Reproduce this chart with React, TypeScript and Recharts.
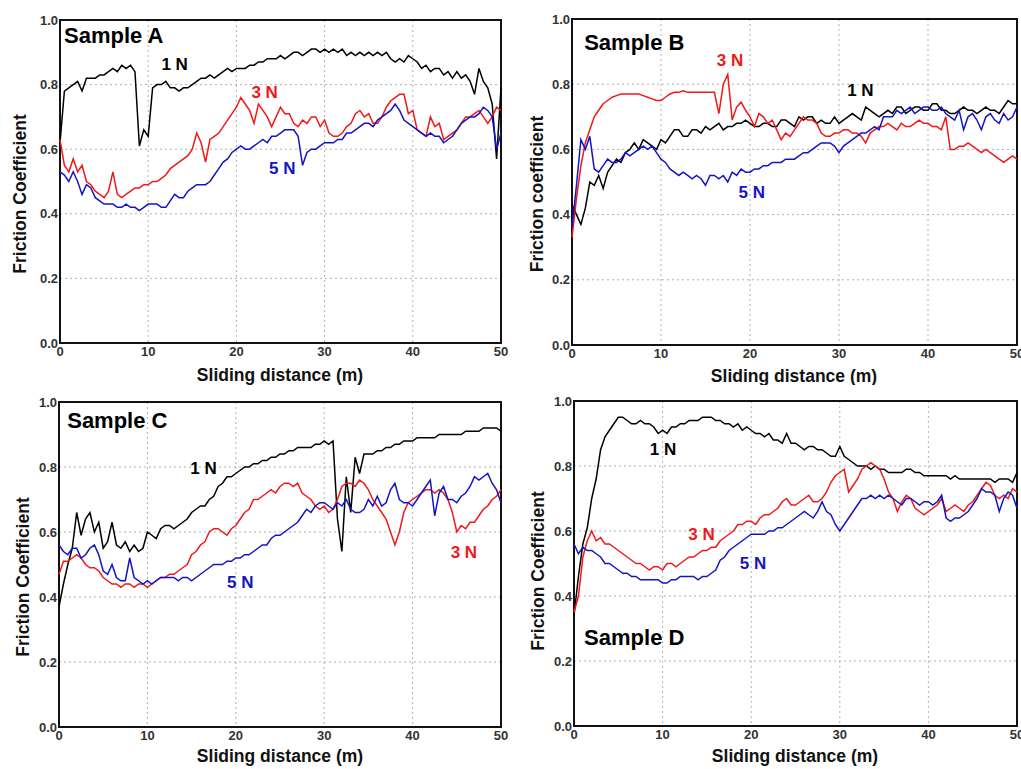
import {
  CartesianGrid,
  Line,
  LineChart,
  ReferenceArea,
  ReferenceDot,
  XAxis,
  YAxis,
} from 'recharts';

// sliding distance (m), sampled every 0.5 m
const distance = [
  0, 0.5, 1, 1.5, 2, 2.5, 3, 3.5, 4, 4.5,
  5, 5.5, 6, 6.5, 7, 7.5, 8, 8.5, 9, 9.5,
  10, 10.5, 11, 11.5, 12, 12.5, 13, 13.5, 14, 14.5,
  15, 15.5, 16, 16.5, 17, 17.5, 18, 18.5, 19, 19.5,
  20, 20.5, 21, 21.5, 22, 22.5, 23, 23.5, 24, 24.5,
  25, 25.5, 26, 26.5, 27, 27.5, 28, 28.5, 29, 29.5,
  30, 30.5, 31, 31.5, 32, 32.5, 33, 33.5, 34, 34.5,
  35, 35.5, 36, 36.5, 37, 37.5, 38, 38.5, 39, 39.5,
  40, 40.5, 41, 41.5, 42, 42.5, 43, 43.5, 44, 44.5,
  45, 45.5, 46, 46.5, 47, 47.5, 48, 48.5, 49, 49.5,
  50,
];

const sampleA1N = [
  0.62, 0.78, 0.79, 0.80, 0.81, 0.78, 0.82, 0.82, 0.82, 0.83,
  0.83, 0.84, 0.85, 0.84, 0.86, 0.85, 0.86, 0.84, 0.61, 0.66,
  0.64, 0.79, 0.80, 0.80, 0.81, 0.79, 0.79, 0.78, 0.79, 0.79,
  0.80, 0.81, 0.82, 0.82, 0.83, 0.82, 0.83, 0.84, 0.85, 0.84,
  0.85, 0.85, 0.85, 0.86, 0.86, 0.87, 0.87, 0.88, 0.88, 0.88,
  0.89, 0.88, 0.89, 0.90, 0.90, 0.89, 0.90, 0.91, 0.91, 0.90,
  0.91, 0.90, 0.91, 0.90, 0.91, 0.89, 0.90, 0.89, 0.90, 0.89,
  0.90, 0.89, 0.90, 0.89, 0.90, 0.88, 0.87, 0.88, 0.87, 0.89,
  0.88, 0.87, 0.85, 0.86, 0.84, 0.85, 0.85, 0.83, 0.84, 0.82,
  0.84, 0.82, 0.83, 0.81, 0.77, 0.85, 0.81, 0.79, 0.74, 0.57,
  0.79,
];
const sampleA3N = [
  0.63, 0.55, 0.53, 0.57, 0.53, 0.55, 0.50, 0.49, 0.47, 0.46,
  0.45, 0.47, 0.53, 0.46, 0.45, 0.46, 0.47, 0.48, 0.48, 0.49,
  0.49, 0.50, 0.50, 0.51, 0.52, 0.54, 0.55, 0.56, 0.57, 0.58,
  0.60, 0.65, 0.62, 0.56, 0.63, 0.64, 0.65, 0.67, 0.69, 0.71,
  0.73, 0.76, 0.74, 0.72, 0.68, 0.74, 0.72, 0.70, 0.67, 0.70,
  0.73, 0.71, 0.71, 0.68, 0.67, 0.69, 0.68, 0.70, 0.70, 0.67,
  0.69, 0.65, 0.64, 0.64, 0.65, 0.67, 0.68, 0.71, 0.72, 0.70,
  0.71, 0.68, 0.68, 0.70, 0.73, 0.75, 0.76, 0.77, 0.77, 0.71,
  0.72, 0.66, 0.65, 0.64, 0.70, 0.67, 0.68, 0.63, 0.64, 0.65,
  0.66, 0.68, 0.70, 0.70, 0.71, 0.72, 0.70, 0.68, 0.70, 0.73,
  0.72,
];
const sampleA5N = [
  0.53, 0.52, 0.50, 0.53, 0.50, 0.46, 0.49, 0.48, 0.45, 0.44,
  0.43, 0.43, 0.43, 0.42, 0.42, 0.43, 0.42, 0.42, 0.41, 0.42,
  0.43, 0.43, 0.43, 0.42, 0.42, 0.44, 0.46, 0.45, 0.45, 0.47,
  0.48, 0.49, 0.49, 0.49, 0.50, 0.52, 0.54, 0.56, 0.57, 0.59,
  0.60, 0.61, 0.60, 0.60, 0.61, 0.62, 0.63, 0.62, 0.64, 0.64,
  0.65, 0.66, 0.66, 0.66, 0.64, 0.55, 0.59, 0.60, 0.60, 0.61,
  0.62, 0.62, 0.62, 0.63, 0.63, 0.65, 0.65, 0.66, 0.67, 0.68,
  0.68, 0.67, 0.69, 0.70, 0.71, 0.72, 0.74, 0.72, 0.69, 0.68,
  0.67, 0.66, 0.65, 0.64, 0.65, 0.64, 0.64, 0.62, 0.63, 0.64,
  0.66, 0.68, 0.69, 0.70, 0.70, 0.71, 0.73, 0.72, 0.70, 0.60,
  0.65,
];

const sampleB1N = [
  0.43, 0.40, 0.37, 0.42, 0.50, 0.49, 0.52, 0.48, 0.53, 0.55,
  0.57, 0.56, 0.59, 0.60, 0.62, 0.60, 0.63, 0.62, 0.61, 0.60,
  0.63, 0.62, 0.64, 0.66, 0.66, 0.64, 0.64, 0.66, 0.66, 0.65,
  0.67, 0.66, 0.67, 0.68, 0.66, 0.67, 0.67, 0.68, 0.68, 0.69,
  0.68, 0.67, 0.67, 0.68, 0.68, 0.67, 0.67, 0.69, 0.69, 0.68,
  0.67, 0.70, 0.69, 0.70, 0.70, 0.68, 0.69, 0.68, 0.68, 0.70,
  0.68, 0.69, 0.70, 0.71, 0.70, 0.69, 0.73, 0.72, 0.71, 0.70,
  0.71, 0.72, 0.71, 0.73, 0.73, 0.71, 0.72, 0.73, 0.73, 0.72,
  0.72, 0.74, 0.74, 0.72, 0.72, 0.71, 0.71, 0.72, 0.73, 0.72,
  0.72, 0.71, 0.72, 0.73, 0.72, 0.72, 0.71, 0.73, 0.75, 0.74,
  0.74,
];
const sampleB3N = [
  0.33, 0.45, 0.55, 0.62, 0.66, 0.70, 0.72, 0.74, 0.75, 0.76,
  0.765, 0.77, 0.77, 0.77, 0.77, 0.77, 0.765, 0.76, 0.755, 0.75,
  0.75, 0.76, 0.77, 0.775, 0.775, 0.78, 0.775, 0.775, 0.775, 0.775,
  0.775, 0.775, 0.775, 0.71, 0.80, 0.83, 0.69, 0.73, 0.745, 0.72,
  0.70, 0.67, 0.71, 0.70, 0.68, 0.69, 0.66, 0.63, 0.65, 0.64,
  0.66, 0.68, 0.70, 0.69, 0.69, 0.68, 0.65, 0.64, 0.64, 0.65,
  0.65, 0.66, 0.66, 0.65, 0.65, 0.64, 0.62, 0.65, 0.66, 0.67,
  0.67, 0.68, 0.67, 0.66, 0.68, 0.67, 0.67, 0.68, 0.69, 0.68,
  0.68, 0.67, 0.67, 0.66, 0.70, 0.60, 0.60, 0.61, 0.61, 0.62,
  0.61, 0.60, 0.59, 0.60, 0.59, 0.58, 0.57, 0.56, 0.57, 0.58,
  0.57,
];
const sampleB5N = [
  0.36, 0.49, 0.63, 0.60, 0.64, 0.54, 0.53, 0.55, 0.57, 0.56,
  0.56, 0.57, 0.59, 0.58, 0.59, 0.60, 0.61, 0.60, 0.61, 0.59,
  0.57, 0.56, 0.54, 0.53, 0.52, 0.53, 0.52, 0.51, 0.52, 0.51,
  0.49, 0.52, 0.52, 0.51, 0.52, 0.50, 0.53, 0.52, 0.54, 0.53,
  0.53, 0.54, 0.54, 0.55, 0.55, 0.56, 0.56, 0.56, 0.57, 0.57,
  0.57, 0.58, 0.59, 0.59, 0.60, 0.61, 0.62, 0.62, 0.62, 0.61,
  0.59, 0.61, 0.62, 0.63, 0.64, 0.65, 0.65, 0.66, 0.67, 0.66,
  0.70, 0.70, 0.70, 0.72, 0.71, 0.72, 0.73, 0.71, 0.72, 0.73,
  0.73, 0.72, 0.72, 0.73, 0.71, 0.70, 0.69, 0.72, 0.66, 0.70,
  0.71, 0.69, 0.66, 0.70, 0.71, 0.69, 0.68, 0.71, 0.69, 0.70,
  0.73,
];

const sampleC1N = [
  0.37, 0.44, 0.50, 0.55, 0.66, 0.59, 0.64, 0.66, 0.60, 0.63,
  0.55, 0.57, 0.63, 0.56, 0.55, 0.57, 0.54, 0.56, 0.54, 0.55,
  0.60, 0.59, 0.58, 0.61, 0.62, 0.62, 0.61, 0.62, 0.63, 0.64,
  0.66, 0.67, 0.68, 0.68, 0.70, 0.71, 0.74, 0.75, 0.77, 0.77,
  0.78, 0.79, 0.80, 0.80, 0.81, 0.81, 0.82, 0.82, 0.83, 0.83,
  0.84, 0.84, 0.85, 0.85, 0.86, 0.86, 0.86, 0.86, 0.87, 0.87,
  0.88, 0.87, 0.88, 0.64, 0.54, 0.77, 0.66, 0.83, 0.78, 0.84,
  0.84, 0.84, 0.85, 0.85, 0.86, 0.86, 0.87, 0.87, 0.88, 0.88,
  0.88, 0.89, 0.89, 0.89, 0.89, 0.89, 0.90, 0.90, 0.90, 0.90,
  0.90, 0.90, 0.91, 0.91, 0.91, 0.91, 0.92, 0.92, 0.92, 0.92,
  0.91,
];
const sampleC3N = [
  0.47, 0.51, 0.51, 0.52, 0.53, 0.52, 0.50, 0.49, 0.49, 0.48,
  0.46, 0.45, 0.44, 0.44, 0.43, 0.44, 0.44, 0.43, 0.44, 0.44,
  0.43, 0.44, 0.45, 0.46, 0.46, 0.47, 0.47, 0.48, 0.49, 0.50,
  0.53, 0.54, 0.56, 0.57, 0.60, 0.61, 0.61, 0.60, 0.59, 0.61,
  0.62, 0.64, 0.66, 0.67, 0.70, 0.70, 0.71, 0.72, 0.73, 0.72,
  0.74, 0.75, 0.75, 0.74, 0.75, 0.72, 0.71, 0.70, 0.68, 0.67,
  0.68, 0.66, 0.67, 0.70, 0.74, 0.75, 0.75, 0.74, 0.76, 0.75,
  0.73, 0.70, 0.68, 0.66, 0.64, 0.60, 0.56, 0.60, 0.66, 0.69,
  0.70, 0.71, 0.72, 0.73, 0.73, 0.72, 0.73, 0.72, 0.70, 0.66,
  0.60, 0.62, 0.61, 0.63, 0.63, 0.65, 0.67, 0.68, 0.70, 0.71,
  0.73,
];
const sampleC5N = [
  0.56, 0.54, 0.53, 0.55, 0.55, 0.52, 0.53, 0.55, 0.56, 0.53,
  0.48, 0.47, 0.50, 0.46, 0.45, 0.45, 0.52, 0.46, 0.45, 0.44,
  0.45, 0.44, 0.45, 0.46, 0.46, 0.46, 0.46, 0.45, 0.46, 0.46,
  0.45, 0.46, 0.47, 0.48, 0.49, 0.50, 0.50, 0.50, 0.51, 0.51,
  0.52, 0.52, 0.53, 0.53, 0.54, 0.55, 0.56, 0.56, 0.58, 0.59,
  0.59, 0.60, 0.61, 0.62, 0.63, 0.65, 0.67, 0.66, 0.68, 0.69,
  0.69, 0.68, 0.67, 0.69, 0.68, 0.70, 0.67, 0.66, 0.66, 0.67,
  0.70, 0.68, 0.71, 0.68, 0.69, 0.73, 0.75, 0.70, 0.69, 0.69,
  0.68, 0.70, 0.72, 0.74, 0.76, 0.65, 0.72, 0.74, 0.70, 0.70,
  0.69, 0.71, 0.72, 0.74, 0.77, 0.76, 0.77, 0.78, 0.75, 0.73,
  0.69,
];

const sampleD1N = [
  0.34, 0.46, 0.56, 0.61, 0.70, 0.76, 0.85, 0.89, 0.91, 0.93,
  0.95, 0.95, 0.94, 0.93, 0.93, 0.94, 0.93, 0.93, 0.92, 0.90,
  0.91, 0.90, 0.92, 0.92, 0.93, 0.93, 0.94, 0.94, 0.94, 0.95,
  0.95, 0.95, 0.94, 0.94, 0.93, 0.93, 0.92, 0.93, 0.91, 0.92,
  0.91, 0.90, 0.90, 0.89, 0.90, 0.88, 0.88, 0.87, 0.90, 0.87,
  0.87, 0.86, 0.85, 0.86, 0.86, 0.85, 0.85, 0.84, 0.83, 0.83,
  0.86, 0.83, 0.82, 0.81, 0.80, 0.80, 0.80, 0.79, 0.80, 0.79,
  0.79, 0.78, 0.78, 0.78, 0.78, 0.79, 0.79, 0.78, 0.78, 0.77,
  0.77, 0.77, 0.77, 0.77, 0.77, 0.76, 0.77, 0.76, 0.76, 0.76,
  0.76, 0.76, 0.76, 0.76, 0.76, 0.75, 0.76, 0.76, 0.76, 0.75,
  0.78,
];
const sampleD3N = [
  0.35, 0.40, 0.52, 0.57, 0.60, 0.57, 0.58, 0.56, 0.56, 0.55,
  0.54, 0.53, 0.52, 0.51, 0.50, 0.50, 0.49, 0.48, 0.49, 0.49,
  0.48, 0.50, 0.50, 0.49, 0.50, 0.51, 0.52, 0.52, 0.53, 0.54,
  0.54, 0.55, 0.55, 0.57, 0.58, 0.59, 0.60, 0.62, 0.62, 0.63,
  0.63, 0.62, 0.64, 0.65, 0.65, 0.66, 0.67, 0.69, 0.70, 0.68,
  0.68, 0.69, 0.70, 0.71, 0.69, 0.69, 0.70, 0.72, 0.75, 0.77,
  0.78, 0.79, 0.72, 0.74, 0.76, 0.79, 0.80, 0.81, 0.80, 0.79,
  0.76, 0.72, 0.70, 0.66, 0.69, 0.71, 0.70, 0.67, 0.66, 0.65,
  0.66, 0.67, 0.68, 0.70, 0.66, 0.67, 0.68, 0.67, 0.66, 0.68,
  0.69, 0.71, 0.73, 0.75, 0.74, 0.71, 0.70, 0.71, 0.70, 0.73,
  0.72,
];
const sampleD5N = [
  0.56, 0.53, 0.55, 0.54, 0.54, 0.53, 0.52, 0.50, 0.50, 0.49,
  0.48, 0.47, 0.47, 0.46, 0.46, 0.45, 0.45, 0.45, 0.45, 0.45,
  0.44, 0.44, 0.45, 0.45, 0.46, 0.46, 0.46, 0.46, 0.45, 0.46,
  0.46, 0.47, 0.48, 0.51, 0.52, 0.54, 0.55, 0.56, 0.57, 0.58,
  0.59, 0.59, 0.59, 0.59, 0.60, 0.60, 0.61, 0.61, 0.62, 0.63,
  0.64, 0.65, 0.66, 0.65, 0.64, 0.66, 0.69, 0.66, 0.65, 0.62,
  0.60, 0.62, 0.64, 0.66, 0.68, 0.70, 0.70, 0.71, 0.70, 0.71,
  0.70, 0.71, 0.70, 0.69, 0.68, 0.70, 0.70, 0.69, 0.68, 0.69,
  0.69, 0.68, 0.69, 0.71, 0.64, 0.63, 0.64, 0.64, 0.65, 0.66,
  0.68, 0.70, 0.73, 0.72, 0.72, 0.71, 0.66, 0.70, 0.72, 0.71,
  0.67,
];

const xTicks = [0, 10, 20, 30, 40, 50];
const yTicks = [0, 0.2, 0.4, 0.6, 0.8, 1.0];

const FONT = 'Arial, "Liberation Sans", Helvetica, sans-serif';
const BLACK = '#000000';
const RED = '#f01818';
const BLUE = '#1414c4';

type Row = { d: number; n1: number; n3: number; n5: number };
type Note = { text: string; x: number; y: number; color: string; size: number };

function toRows(n1: number[], n3: number[], n5: number[]): Row[] {
  return distance.map((d, i) => ({ d, n1: n1[i], n3: n3[i], n5: n5[i] }));
}

function AxisTitle({ px, py, text, vertical }: { px: number; py: number; text: string; vertical?: boolean }) {
  return (
    <text
      x={px}
      y={py}
      dy={vertical ? '0.36em' : 0}
      transform={vertical ? `rotate(-90 ${px} ${py})` : undefined}
      textAnchor="middle"
      fontFamily={FONT}
      fontSize={17.5}
      fontWeight={700}
      fill="#111"
    >
      {text}
    </text>
  );
}

interface PanelProps {
  left: number;
  top: number;
  width: number;
  height: number;
  margin: { top: number; right: number; bottom: number; left: number };
  xAxisHeight: number;
  rows: Row[];
  notes: Note[];
  yTitle: string;
  yTitlePos: [number, number];
  xTitlePos: [number, number];
}

const tickStyle = { fill: '#333', fontSize: 13, fontWeight: 700, fontFamily: FONT };

function Panel({ left, top, width, height, margin, xAxisHeight, rows, notes, yTitle, yTitlePos, xTitlePos }: PanelProps) {
  return (
    <div style={{ position: 'absolute', left, top }}>
      <LineChart width={width} height={height} data={rows} margin={margin}>
        <CartesianGrid stroke="#b0b0b0" strokeDasharray="2 3" />
        <XAxis
          dataKey="d"
          type="number"
          domain={[0, 50]}
          ticks={xTicks}
          interval={0}
          height={xAxisHeight}
          tickSize={0}
          tickMargin={4}
          axisLine={false}
          tickLine={false}
          tick={tickStyle}
          label={<AxisTitle px={xTitlePos[0]} py={xTitlePos[1]} text="Sliding distance (m)" />}
        />
        <YAxis
          type="number"
          domain={[0, 1]}
          ticks={yTicks}
          interval={0}
          width={44}
          tickSize={0}
          tickMargin={2}
          axisLine={false}
          tickLine={false}
          tick={tickStyle}
          tickFormatter={(v: number) => v.toFixed(1)}
          label={<AxisTitle px={yTitlePos[0]} py={yTitlePos[1]} text={yTitle} vertical />}
        />
        <Line dataKey="n1" type="linear" stroke={BLACK} strokeWidth={1.5} dot={false} isAnimationActive={false} />
        <Line dataKey="n3" type="linear" stroke={RED} strokeWidth={1.5} dot={false} isAnimationActive={false} />
        <Line dataKey="n5" type="linear" stroke={BLUE} strokeWidth={1.5} dot={false} isAnimationActive={false} />
        <ReferenceArea x1={0} x2={50} y1={0} y2={1} fill="none" stroke="#111" strokeWidth={2} />
        {notes.map(n => (
          <ReferenceDot
            key={n.text + n.color}
            x={n.x}
            y={n.y}
            r={1}
            isFront
            shape={(p: any) => (
              <text
                x={p.cx}
                y={p.cy}
                dy="0.36em"
                textAnchor="middle"
                fontFamily={FONT}
                fontSize={n.size}
                fontWeight={700}
                fill={n.color}
              >
                {n.text}
              </text>
            )}
          />
        ))}
      </LineChart>
    </div>
  );
}

const notesA: Note[] = [
  { text: 'Sample A', x: 6.1, y: 0.952, color: BLACK, size: 22 },
  { text: '1 N', x: 13.0, y: 0.864, color: BLACK, size: 17 },
  { text: '3 N', x: 23.2, y: 0.779, color: RED, size: 17 },
  { text: '5 N', x: 25.2, y: 0.541, color: BLUE, size: 17 },
];
const notesB: Note[] = [
  { text: 'Sample B', x: 7.0, y: 0.928, color: BLACK, size: 22 },
  { text: '3 N', x: 17.75, y: 0.876, color: RED, size: 17 },
  { text: '1 N', x: 32.4, y: 0.784, color: BLACK, size: 17 },
  { text: '5 N', x: 20.2, y: 0.471, color: BLUE, size: 17 },
];
const notesC: Note[] = [
  { text: 'Sample C', x: 6.6, y: 0.943, color: BLACK, size: 22 },
  { text: '1 N', x: 16.35, y: 0.796, color: BLACK, size: 17 },
  { text: '3 N', x: 45.8, y: 0.538, color: RED, size: 17 },
  { text: '5 N', x: 20.5, y: 0.448, color: BLUE, size: 17 },
];
const notesD: Note[] = [
  { text: 'Sample D', x: 6.8, y: 0.275, color: BLACK, size: 22 },
  { text: '1 N', x: 10.05, y: 0.854, color: BLACK, size: 17 },
  { text: '3 N', x: 14.4, y: 0.59, color: RED, size: 17 },
  { text: '5 N', x: 20.2, y: 0.501, color: BLUE, size: 17 },
];

export default function App() {
  return (
    <div
      style={{
        position: 'absolute',
        left: 0,
        top: 0,
        width: 1021,
        height: 769,
        background: '#fff',
        fontFamily: FONT,
        overflow: 'hidden',
      }}
    >
      <Panel
        left={0}
        top={0}
        width={510}
        height={385}
        margin={{ top: 20, right: 9, bottom: 0, left: 16 }}
        xAxisHeight={42}
        rows={toRows(sampleA1N, sampleA3N, sampleA5N)}
        notes={notesA}
        yTitle="Friction Coefficient"
        yTitlePos={[20, 194]}
        xTitlePos={[280, 381]}
      />
      <Panel
        left={510}
        top={0}
        width={511}
        height={385}
        margin={{ top: 19, right: 4, bottom: 0, left: 18 }}
        xAxisHeight={40}
        rows={toRows(sampleB1N, sampleB3N, sampleB5N)}
        notes={notesB}
        yTitle="Friction coefficient"
        yTitlePos={[27, 194]}
        xTitlePos={[284, 382]}
      />
      <Panel
        left={0}
        top={385}
        width={510}
        height={384}
        margin={{ top: 17, right: 9, bottom: 2, left: 15 }}
        xAxisHeight={40}
        rows={toRows(sampleC1N, sampleC3N, sampleC5N)}
        notes={notesC}
        yTitle="Friction Coefficient"
        yTitlePos={[23, 192]}
        xTitlePos={[280, 377]}
      />
      <Panel
        left={510}
        top={385}
        width={511}
        height={384}
        margin={{ top: 16, right: 4, bottom: 3, left: 20 }}
        xAxisHeight={40}
        rows={toRows(sampleD1N, sampleD3N, sampleD5N)}
        notes={notesD}
        yTitle="Friction Coefficient"
        yTitlePos={[28, 186]}
        xTitlePos={[285, 377]}
      />
    </div>
  );
}
